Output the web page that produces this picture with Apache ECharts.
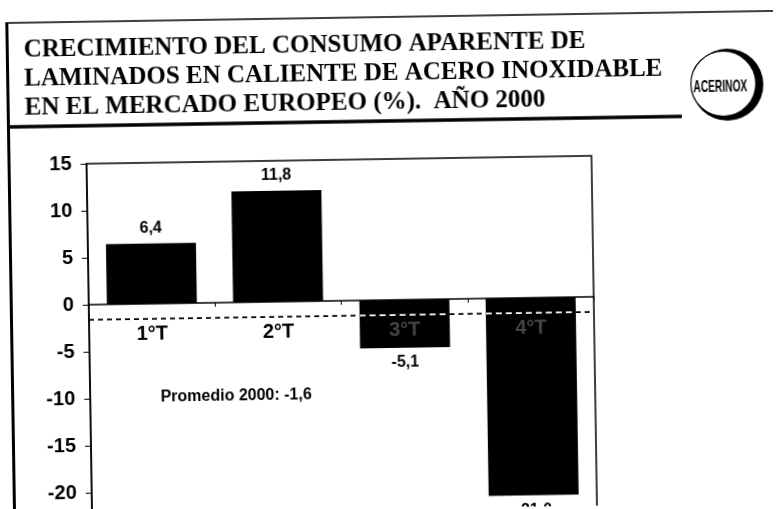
<!DOCTYPE html>
<html>
<head>
<meta charset="utf-8">
<title>Consumo aparente laminados en caliente</title>
<script src="https://cdn.jsdelivr.net/npm/echarts@6/dist/echarts.min.js"></script>
<style>
body{margin:0;padding:0;background:#fff;overflow:hidden;}
#chart{width:777px;height:509px;transform:rotate(-0.9deg);}
</style>
</head>
<body>
<div id="chart"></div>
<script type="text/javascript">
// datos (%) por trimestre
var trimestres = ['1°T', '2°T', '3°T', '4°T'];
var crecimiento = [6.4, 11.8, -5.1, -21.0];
var promedio = -1.6;
var yTicks = {min: -25, max: 15, interval: 5};

var titulo = 'CRECIMIENTO DEL CONSUMO APARENTE DE\nLAMINADOS EN CALIENTE DE ACERO INOXIDABLE\nEN EL MERCADO EUROPEO (%).  AÑO 2000';

var anchoBarra = 90;
function coma(v){ return v.toFixed(1).replace('.', ','); }

var myChart = echarts.init(document.getElementById('chart'));
myChart.setOption({
	backgroundColor: '#fff',
	animation: false,
	title: {
		text: titulo,
		left: 22, top: 25,
		textStyle: {fontFamily: 'Liberation Serif', fontWeight: 'bold', fontSize: 25, lineHeight: 29, color: '#000'}
	},
	grid: {left: 88, top: 159, width: 505, height: 376, outerBoundsMode: 'none', containLabel: false,
		show: true, borderColor: '#000', borderWidth: 1.5},
	xAxis: {
		type: 'category',
		data: trimestres,
		z: 5,
		axisLine: {onZero: true, lineStyle: {color: '#000', width: 1.5}},
		axisTick: {show: true, length: 4, lineStyle: {color: '#000'}},
		axisLabel: {show: false}
	},
	yAxis: {
		type: 'value',
		min: yTicks.min, max: yTicks.max, interval: yTicks.interval,
		splitLine: {show: false},
		axisLine: {show: true, lineStyle: {color: '#000', width: 1.5}},
		axisTick: {show: true, length: 6, lineStyle: {color: '#000'}},
		axisLabel: {margin: 15, fontFamily: 'Liberation Sans', fontWeight: 'bold', fontSize: 20, color: '#000'}
	},
	series: [
		{
			type: 'bar',
			z: 2,
			barWidth: anchoBarra,
			itemStyle: {color: '#000'},
			label: {
				show: true, distance: 7,
				fontFamily: 'Liberation Sans', fontWeight: 'bold', fontSize: 16, color: '#000',
				formatter: function (p) { return coma(p.value); }
			},
			data: crecimiento.map(function (v) {
				return {value: v, label: {position: v >= 0 ? 'top' : 'bottom'}};
			})
		},
		{
			// linea de promedio (negra sobre fondo, blanca sobre barras) y rotulos de trimestre junto al cero
			type: 'custom',
			z: 4,
			silent: true,
			data: crecimiento.map(function (v, i) { return [i, v]; }),
			renderItem: function (params, api) {
				var i = api.value(0);
				var p = api.coord([i, promedio]);
				var c0 = api.coord([i, 0]);
				var banda = api.size([1, 0])[0];
				var tapado = api.value(1) < promedio;
				var hijos = [{
					type: 'line',
					shape: {x1: p[0] - banda / 2, y1: p[1], x2: p[0] + banda / 2, y2: p[1]},
					style: {stroke: '#000', lineWidth: 1.7, lineDash: [5, 4]}
				}];
				if (tapado) {
					hijos.push({
						type: 'line',
						shape: {x1: p[0] - anchoBarra / 2, y1: p[1], x2: p[0] + anchoBarra / 2, y2: p[1]},
						style: {stroke: '#fff', lineWidth: 1.7, lineDash: [6, 4]}
					});
				}
				hijos.push({
					type: 'text',
					x: c0[0], y: c0[1] + 20,
					style: {
						text: trimestres[i], fontFamily: 'Liberation Sans', fontWeight: 'bold', fontSize: 20,
						fill: tapado ? '#444' : '#000', align: 'center', verticalAlign: 'top'
					}
				});
				return {type: 'group', children: hijos};
			}
		}
	],
	graphic: [
		{type: 'line', shape: {x1: 10.5, y1: 17, x2: 10.5, y2: 530}, style: {stroke: '#000', lineWidth: 3}},
		{type: 'line', shape: {x1: 9, y1: 17, x2: 790, y2: 17}, style: {stroke: '#000', lineWidth: 1.5}},
		{type: 'line', shape: {x1: 10, y1: 121, x2: 684, y2: 121}, style: {stroke: '#000', lineWidth: 3.5}},
		{type: 'circle', shape: {cx: 730, cy: 90, r: 36}, style: {fill: '#000'}},
		{type: 'circle', shape: {cx: 726, cy: 89, r: 32.5}, style: {fill: '#fff', stroke: '#000', lineWidth: 1.2}},
		{
			type: 'text', x: 723, y: 92, scaleX: 0.6,
			style: {text: 'ACERINOX', fontFamily: 'Liberation Sans', fontWeight: 'bold', fontSize: 17, fill: '#000', align: 'center', verticalAlign: 'middle'}
		},
		{
			type: 'text', x: 234, y: 394,
			style: {text: 'Promedio 2000: ' + coma(promedio), fontFamily: 'Liberation Sans', fontWeight: 'bold', fontSize: 16, fill: '#000', align: 'center', verticalAlign: 'middle'}
		}
	]
});
</script>
</body>
</html>
